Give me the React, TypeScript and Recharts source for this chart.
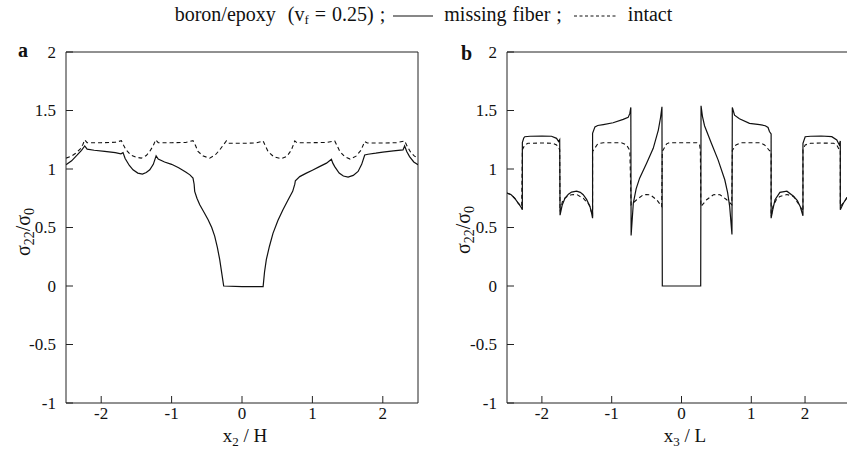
import { LineChart, Line, XAxis, YAxis, ReferenceLine } from "recharts";

const SERIF = "'Liberation Serif', 'Times New Roman', serif";

// panel a: sigma22/sigma0 along x2/H
const aMissing: [number, number][] = [
  [-2.5, 1.036], [-2.42, 1.07], [-2.34, 1.12], [-2.28, 1.16], [-2.234, 1.197], [-2.2, 1.17],
  [-2.1, 1.16], [-1.95, 1.15], [-1.8, 1.14], [-1.72, 1.13], [-1.69, 1.14], [-1.66, 1.09],
  [-1.6, 1.03], [-1.548, 0.993], [-1.48, 0.965], [-1.415, 0.957], [-1.36, 0.97], [-1.31, 0.993],
  [-1.26, 1.04], [-1.22, 1.112], [-1.19, 1.085], [-1.1, 1.06], [-1.0, 1.04], [-0.9, 1.01],
  [-0.8, 0.975], [-0.74, 0.95], [-0.696, 0.922], [-0.68, 0.87], [-0.672, 0.809], [-0.64, 0.75],
  [-0.6, 0.695], [-0.54, 0.63], [-0.483, 0.568], [-0.43, 0.5], [-0.388, 0.426], [-0.35, 0.33],
  [-0.317, 0.227], [-0.285, 0.1], [-0.26, 0], [0, -0.005], [0.3, -0.005], [0.32, 0.12],
  [0.346, 0.227], [0.39, 0.34], [0.44, 0.45], [0.51, 0.56], [0.58, 0.65], [0.65, 0.73],
  [0.72, 0.809], [0.75, 0.87], [0.758, 0.9], [0.82, 0.935], [0.914, 0.965], [1.0, 0.99],
  [1.1, 1.02], [1.2, 1.05], [1.27, 1.083], [1.29, 1.05], [1.317, 1.02], [1.38, 0.965],
  [1.44, 0.94], [1.507, 0.93], [1.58, 0.945], [1.649, 0.979], [1.7, 1.04], [1.743, 1.12],
  [1.79, 1.126], [1.9, 1.135], [2.0, 1.145], [2.15, 1.155], [2.287, 1.163], [2.31, 1.197],
  [2.34, 1.15], [2.38, 1.106], [2.44, 1.06], [2.5, 1.036],
];

const aIntact: [number, number][] = [
  [-2.5, 1.093], [-2.42, 1.11], [-2.35, 1.14], [-2.3, 1.17], [-2.26, 1.21], [-2.234, 1.249],
  [-2.2, 1.225], [-2.0, 1.225], [-1.8, 1.228], [-1.713, 1.242], [-1.68, 1.2], [-1.647, 1.163],
  [-1.58, 1.12], [-1.5, 1.1], [-1.43, 1.093], [-1.36, 1.115], [-1.31, 1.15], [-1.26, 1.2],
  [-1.226, 1.249], [-1.19, 1.225], [-1.0, 1.225], [-0.8, 1.227], [-0.696, 1.242], [-0.66, 1.2],
  [-0.625, 1.15], [-0.55, 1.11], [-0.459, 1.093], [-0.38, 1.12], [-0.317, 1.163], [-0.26, 1.21],
  [-0.222, 1.24], [-0.19, 1.22], [0, 1.22], [0.2, 1.222], [0.3, 1.24], [0.33, 1.2],
  [0.37, 1.15], [0.45, 1.105], [0.56, 1.088], [0.64, 1.11], [0.7, 1.16], [0.75, 1.24],
  [0.78, 1.225], [1.0, 1.225], [1.2, 1.227], [1.317, 1.24], [1.35, 1.2], [1.39, 1.15],
  [1.46, 1.105], [1.535, 1.085], [1.62, 1.11], [1.69, 1.16], [1.743, 1.235], [1.78, 1.222],
  [2.0, 1.222], [2.2, 1.225], [2.31, 1.24], [2.35, 1.19], [2.4, 1.14], [2.45, 1.11], [2.5, 1.093],
];

// panel b: sigma22/sigma0 along x3/L
const bMissing: [number, number][] = [
  [-2.5, 0.795], [-2.44, 0.78], [-2.39, 0.75], [-2.34, 0.709], [-2.3, 0.675], [-2.28, 0.652],
  [-2.28, 1.225], [-2.26, 1.265], [-2.245, 1.276], [-2.17, 1.28], [-2.0, 1.282], [-1.862, 1.28],
  [-1.79, 1.262], [-1.76, 1.235], [-1.745, 1.25], [-1.74, 0.605], [-1.71, 0.69], [-1.67, 0.75],
  [-1.62, 0.785], [-1.575, 0.803], [-1.503, 0.81], [-1.45, 0.8], [-1.408, 0.78], [-1.36, 0.74],
  [-1.312, 0.68], [-1.29, 0.63], [-1.274, 0.58], [-1.274, 1.305], [-1.24, 1.36], [-1.2, 1.372],
  [-1.12, 1.38], [-0.98, 1.395], [-0.835, 1.424], [-0.764, 1.441], [-0.74, 1.475], [-0.726, 1.526],
  [-0.722, 0.431], [-0.69, 0.709], [-0.65, 0.83], [-0.6, 0.922], [-0.5, 1.05], [-0.405, 1.177],
  [-0.332, 1.333], [-0.3, 1.44], [-0.28, 1.532], [-0.275, 0], [0.275, 0], [0.28, 1.54],
  [0.3, 1.45], [0.33, 1.37], [0.428, 1.22], [0.524, 1.078], [0.62, 0.908], [0.66, 0.8],
  [0.69, 0.68], [0.723, 0.44], [0.728, 1.526], [0.76, 1.46], [0.83, 1.43], [0.974, 1.39],
  [1.12, 1.38], [1.2, 1.37], [1.24, 1.355], [1.26, 1.32], [1.284, 1.3], [1.284, 0.58],
  [1.31, 0.66], [1.34, 0.737], [1.41, 0.8], [1.51, 0.81], [1.605, 0.767], [1.66, 0.73],
  [1.7, 0.68], [1.74, 0.6], [1.74, 1.22], [1.772, 1.276], [1.85, 1.28], [2.0, 1.282],
  [2.153, 1.276], [2.225, 1.248], [2.26, 1.206], [2.275, 1.24], [2.275, 0.652], [2.32, 0.709],
  [2.37, 0.755], [2.44, 0.78], [2.5, 0.795],
];

const bIntact: [number, number][] = [
  [-2.5, 0.795], [-2.44, 0.78], [-2.39, 0.75], [-2.34, 0.709], [-2.29, 0.68], [-2.28, 1.165],
  [-2.245, 1.206], [-2.2, 1.22], [-2.0, 1.222], [-1.84, 1.22], [-1.79, 1.206], [-1.745, 1.165],
  [-1.74, 0.638], [-1.7, 0.737], [-1.63, 0.77], [-1.575, 0.78], [-1.5, 0.782], [-1.408, 0.75],
  [-1.33, 0.7], [-1.312, 0.68], [-1.274, 0.595], [-1.274, 1.15], [-1.2, 1.215], [-1.12, 1.225],
  [-0.86, 1.225], [-0.788, 1.206], [-0.74, 1.158], [-0.722, 0.695], [-0.642, 0.737], [-0.547, 0.78],
  [-0.5, 0.782], [-0.45, 0.78], [-0.355, 0.737], [-0.284, 0.68], [-0.275, 1.15], [-0.213, 1.215],
  [-0.17, 1.225], [0.22, 1.225], [0.26, 1.206], [0.27, 1.158], [0.278, 0.68], [0.36, 0.737],
  [0.457, 0.78], [0.5, 0.782], [0.552, 0.78], [0.648, 0.737], [0.72, 0.695], [0.728, 1.158],
  [0.78, 1.206], [0.853, 1.225], [1.12, 1.225], [1.19, 1.206], [1.26, 1.158], [1.284, 1.15],
  [1.284, 0.595], [1.31, 0.68], [1.36, 0.74], [1.41, 0.766], [1.51, 0.782], [1.605, 0.766],
  [1.7, 0.68], [1.74, 0.638], [1.74, 1.165], [1.772, 1.206], [1.85, 1.22], [2.0, 1.222],
  [2.18, 1.22], [2.225, 1.206], [2.26, 1.165], [2.275, 1.165], [2.275, 0.68], [2.32, 0.709],
  [2.37, 0.755], [2.44, 0.78], [2.5, 0.795],
];

const yTicks = [-1, -0.5, 0, 0.5, 1, 1.5, 2];
const xTicksA = [-2, -1, 0, 1, 2];
// the "2" tick of panel b sits short of 2 in the source figure
const xTicksB = [-2, -1, 0, 1, 1.77];
const xLabelsB = ["-2", "-1", "0", "1", "2"];

const toPts = (arr: [number, number][]) => arr.map(([x, y]) => ({ x, y }));

const XTick = (props: any) => {
  const { x, y, payload, labels, ticks } = props;
  const i = ticks.indexOf(payload.value);
  const txt = labels ? labels[i] : String(payload.value);
  return (
    <g>
      <line x1={x} y1={y} x2={x} y2={y - 7} stroke="#222" strokeWidth={1} />
      <text x={x} y={y + 16} textAnchor="middle" fontFamily={SERIF} fontSize={17} fill="#111">
        {txt}
      </text>
    </g>
  );
};

const YTick = (props: any) => {
  const { x, y, payload } = props;
  return (
    <g>
      <line x1={x} y1={y} x2={x + 7} y2={y} stroke="#222" strokeWidth={1} />
      <text x={x - 10} y={y} dy="0.35em" textAnchor="end" fontFamily={SERIF} fontSize={17} fill="#111">
        {String(payload.value)}
      </text>
    </g>
  );
};

function Panel({
  missing,
  intact,
  xTicks,
  xLabels,
  width,
  left,
  right,
  box,
}: {
  missing: [number, number][];
  intact: [number, number][];
  xTicks: number[];
  xLabels?: string[];
  width: number;
  left: number;
  right: number;
  box: boolean;
}) {
  // axis areas: x axis 30 tall, y axis 40 wide; plot spans y 52..403
  return (
    <LineChart width={width} height={450} margin={{ top: 52, right, bottom: 17, left: left - 40 }}>
      <XAxis
        type="number"
        dataKey="x"
        domain={[-2.5, 2.5]}
        ticks={xTicks}
        height={30}
        tickSize={0}
        tickMargin={0}
        tickLine={false}
        axisLine={{ stroke: "#222" }}
        tick={<XTick labels={xLabels} ticks={xTicks} />}
        interval={0}
        allowDataOverflow
      />
      <YAxis
        type="number"
        domain={[-1, 2]}
        ticks={yTicks}
        width={40}
        tickSize={0}
        tickMargin={0}
        tickLine={false}
        axisLine={{ stroke: "#222" }}
        tick={<YTick />}
        interval={0}
        allowDataOverflow
      />
      <ReferenceLine y={2} stroke="#222" />
      {box && <ReferenceLine x={2.5} stroke="#222" />}
      <Line
        data={toPts(intact)}
        dataKey="y"
        type="linear"
        stroke="#111"
        strokeWidth={1.1}
        strokeDasharray="4 3"
        dot={false}
        isAnimationActive={false}
      />
      <Line
        data={toPts(missing)}
        dataKey="y"
        type="linear"
        stroke="#111"
        strokeWidth={1.2}
        dot={false}
        isAnimationActive={false}
      />
    </LineChart>
  );
}

const SigmaLabel = ({ cx, cy }: { cx: number; cy: number }) => (
  <text
    transform={`translate(${cx},${cy}) rotate(-90)`}
    textAnchor="middle"
    fontFamily={SERIF}
    fontSize={20}
    fill="#111"
  >
    σ<tspan fontSize={14} dy={4}>22</tspan>
    <tspan dy={-4}>/σ</tspan>
    <tspan fontSize={14} dy={4}>0</tspan>
  </text>
);

export default function App() {
  return (
    <div
      style={{
        position: "absolute",
        left: 0,
        top: 0,
        width: 847,
        height: 450,
        overflow: "hidden",
        background: "#fff",
      }}
    >
      <div style={{ position: "absolute", left: 0, top: 0 }}>
        <Panel missing={aMissing} intact={aIntact} xTicks={xTicksA} width={430} left={66} right={12} box />
      </div>
      <div style={{ position: "absolute", left: 440, top: 0 }}>
        <Panel
          missing={bMissing}
          intact={bIntact}
          xTicks={xTicksB}
          xLabels={xLabelsB}
          width={426}
          left={67}
          right={10}
          box={false}
        />
      </div>
      <svg width={847} height={450} style={{ position: "absolute", left: 0, top: 0, pointerEvents: "none" }}>
        <text x={18} y={57} fontFamily={SERIF} fontSize={20} fontWeight="bold" fill="#111">a</text>
        <text x={461} y={60} fontFamily={SERIF} fontSize={20} fontWeight="bold" fill="#111">b</text>
        <SigmaLabel cx={30} cy={232} />
        <SigmaLabel cx={470} cy={230} />
        <text x={245} y={442} textAnchor="middle" fontFamily={SERIF} fontSize={19} fill="#111">
          x<tspan fontSize={13} dy={4}>2</tspan>
          <tspan dy={-4}> / H</tspan>
        </text>
        <text x={685} y={442} textAnchor="middle" fontFamily={SERIF} fontSize={19} fill="#111">
          x<tspan fontSize={13} dy={4}>3</tspan>
          <tspan dy={-4}> / L</tspan>
        </text>
      </svg>
      <div
        style={{
          position: "absolute",
          left: 0,
          top: 3,
          width: 847,
          textAlign: "center",
          fontFamily: SERIF,
          fontSize: 20,
          color: "#111",
          whiteSpace: "nowrap",
          wordSpacing: 1,
        }}
      >
        boron/epoxy&nbsp;&nbsp;(v<sub style={{ fontSize: 13, verticalAlign: "-3px" }}>f</sub> = 0.25) ;{" "}
        <svg width={40} height={10} style={{ verticalAlign: "middle", margin: "0 5px 0 2px" }}>
          <line x1={0} y1={5} x2={40} y2={5} stroke="#111" strokeWidth={1.2} />
        </svg>{" "}
        missing fiber ;{" "}
        <svg width={44} height={10} style={{ verticalAlign: "middle", margin: "0 4px 0 6px" }}>
          <line x1={0} y1={5} x2={44} y2={5} stroke="#111" strokeWidth={1} strokeDasharray="3 2.5" />
        </svg>{" "}
        intact
      </div>
    </div>
  );
}
